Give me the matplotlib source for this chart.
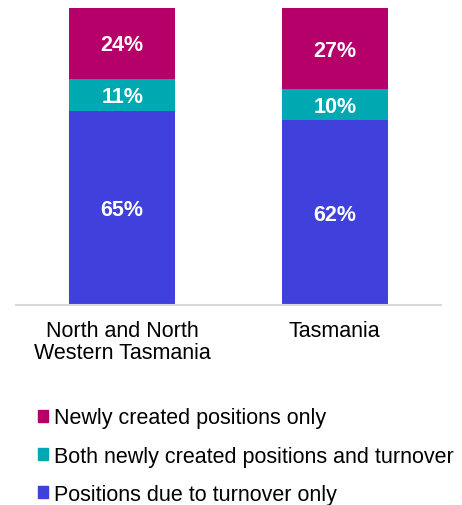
import numpy as np
import matplotlib.pyplot as plt
from matplotlib.patches import Patch

plt.rcParams["font.family"] = ["Liberation Sans", "DejaVu Sans"]

categories = ["North and North\nWestern Tasmania", "Tasmania"]
series_names = [
    "Positions due to turnover only",
    "Both newly created positions and turnover",
    "Newly created positions only",
]
turnover_only = [65.3, 62.2]
both = [10.9, 10.4]
new_only = [23.8, 27.4]
colors = ["#4040DC", "#00A8B1", "#B5006A"]

fig = plt.figure(figsize=(4.62, 5.06), dpi=100)
ax = fig.add_axes([0.0346, 0.395, 0.92, 0.587])

x = np.arange(len(categories))
bottom = np.zeros(len(categories))
for vals, col in zip([turnover_only, both, new_only], colors):
    vals = np.array(vals)
    ax.bar(x, vals, width=0.5, bottom=bottom, color=col, edgecolor="none")
    for xi, b, v in zip(x, bottom, vals):
        ax.text(xi, b + v / 2 - 0.5, f"{round(v)}%", ha="center", va="center",
                color="white", fontsize=15.5, fontweight="bold")
    bottom += vals

ax.set_xlim(-0.5, 1.5)
ax.set_ylim(0, 100)
ax.set_yticks([])
ax.set_xticks(x)
ax.set_xticklabels(categories, fontsize=15.5, linespacing=1.05)
ax.tick_params(axis="x", length=0, pad=11)
for s in ["left", "right", "top"]:
    ax.spines[s].set_visible(False)
ax.spines["bottom"].set_color("#D9D9D9")
ax.spines["bottom"].set_linewidth(1.5)

handles = [Patch(color=c) for c in colors[::-1]]
fig.legend(handles, series_names[::-1], loc="upper left",
           bbox_to_anchor=(0.083, 0.193), frameon=False, fontsize=15.5,
           handlelength=0.47, handleheight=0.47, handletextpad=0.25,
           labelspacing=0.8, borderaxespad=0, borderpad=0)

fig.savefig("out.png", dpi=100)
